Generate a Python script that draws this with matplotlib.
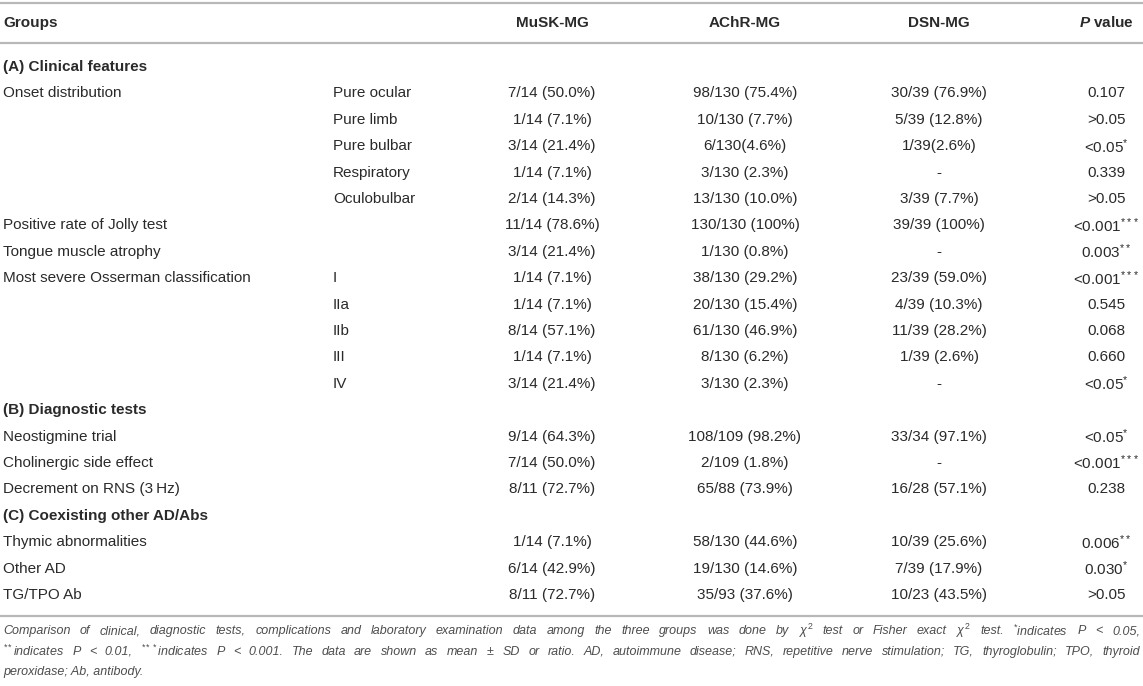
import matplotlib
matplotlib.use("Agg")
import matplotlib.pyplot as plt

plt.rcParams['font.family'] = ['Liberation Sans', 'DejaVu Sans']
plt.rcParams['mathtext.fontset'] = 'custom'
plt.rcParams['mathtext.rm'] = 'Liberation Sans'
plt.rcParams['mathtext.it'] = 'Liberation Sans:italic'
plt.rcParams['mathtext.bf'] = 'Liberation Sans:bold'
plt.rcParams['mathtext.bfit'] = 'Liberation Sans:bold:italic'

# ---------------- data ----------------
headers = ["Groups", "MuSK-MG", "AChR-MG", "DSN-MG", r"$\mathbfit{P}$ value"]

row_kind = ["section", "data", "data", "data", "data", "data", "data", "data",
            "data", "data", "data", "data", "data",
            "section", "data", "data", "data",
            "section", "data", "data", "data"]
row_label = ["(A) Clinical features", "Onset distribution", "", "", "", "",
             "Positive rate of Jolly test", "Tongue muscle atrophy",
             "Most severe Osserman classification", "", "", "", "",
             "(B) Diagnostic tests", "Neostigmine trial", "Cholinergic side effect",
             "Decrement on RNS (3\u2009Hz)",
             "(C) Coexisting other AD/Abs", "Thymic abnormalities", "Other AD", "TG/TPO Ab"]
row_sub = ["", "Pure ocular", "Pure limb", "Pure bulbar", "Respiratory", "Oculobulbar",
           "", "", "I", "IIa", "IIb", "III", "IV",
           "", "", "", "", "", "", "", ""]
musk = ["", "7/14 (50.0%)", "1/14 (7.1%)", "3/14 (21.4%)", "1/14 (7.1%)", "2/14 (14.3%)",
        "11/14 (78.6%)", "3/14 (21.4%)", "1/14 (7.1%)", "1/14 (7.1%)", "8/14 (57.1%)",
        "1/14 (7.1%)", "3/14 (21.4%)",
        "", "9/14 (64.3%)", "7/14 (50.0%)", "8/11 (72.7%)",
        "", "1/14 (7.1%)", "6/14 (42.9%)", "8/11 (72.7%)"]
achr = ["", "98/130 (75.4%)", "10/130 (7.7%)", "6/130(4.6%)", "3/130 (2.3%)", "13/130 (10.0%)",
        "130/130 (100%)", "1/130 (0.8%)", "38/130 (29.2%)", "20/130 (15.4%)", "61/130 (46.9%)",
        "8/130 (6.2%)", "3/130 (2.3%)",
        "", "108/109 (98.2%)", "2/109 (1.8%)", "65/88 (73.9%)",
        "", "58/130 (44.6%)", "19/130 (14.6%)", "35/93 (37.6%)"]
dsn = ["", "30/39 (76.9%)", "5/39 (12.8%)", "1/39(2.6%)", "-", "3/39 (7.7%)",
       "39/39 (100%)", "-", "23/39 (59.0%)", "4/39 (10.3%)", "11/39 (28.2%)",
       "1/39 (2.6%)", "-",
       "", "33/34 (97.1%)", "-", "16/28 (57.1%)",
       "", "10/39 (25.6%)", "7/39 (17.9%)", "10/23 (43.5%)"]
pval = ["", "0.107", ">0.05", "<0.05", "0.339", ">0.05",
        "<0.001", "0.003", "<0.001", "0.545", "0.068", "0.660", "<0.05",
        "", "<0.05", "<0.001", "0.238",
        "", "0.006", "0.030", ">0.05"]
pstars = [0, 0, 0, 1, 0, 0,
          3, 2, 3, 0, 0, 0, 1,
          0, 1, 3, 0,
          0, 2, 1, 0]

caption_lines = [
    r"Comparison of clinical, diagnostic tests, complications and laboratory examination data among the three groups was done by $\chi^2$ test or Fisher exact $\chi^2$ test. $^{*}$indicates P < 0.05,",
    r"$^{**}$indicates P < 0.01, $^{***}$indicates P < 0.001. The data are shown as mean $\pm$ SD or ratio. AD, autoimmune disease; RNS, repetitive nerve stimulation; TG, thyroglobulin; TPO, thyroid",
    r"peroxidase; Ab, antibody.",
]

# ---------------- layout ----------------
W, H = 1143, 686
fig = plt.figure(figsize=(W / 100, H / 100), dpi=100)
ax = fig.add_axes([0, 0, 1, 1])
ax.set_xlim(0, W)
ax.set_ylim(H, 0)
ax.axis('off')
renderer = fig.canvas.get_renderer()

text_col = '#2a2a2a'
rule_col = '#b8b8b8'
cap_col = '#4d4d4d'
fs = 11.0
cap_fs = 9.0

x_lab, x_sub = 3, 333
x_centers = [552, 745, 939, 1106]

y_head = 22.7
y0, dy = 67, 26.4
y_rule_bot = 615.5
y_cap0, dy_cap = 631, 20.6

for y in (2.7, 43.3, y_rule_bot):
    ax.plot([0, W], [y, y], color=rule_col, lw=1.6, solid_capstyle='butt')

ax.text(x_lab, y_head, headers[0], fontsize=fs, fontweight='bold', color=text_col,
        ha='left', va='center')
for x, h in zip(x_centers, headers[1:]):
    ax.text(x, y_head, h, fontsize=fs, fontweight='bold', color=text_col,
            ha='center', va='center')

for i, kind in enumerate(row_kind):
    y = y0 + i * dy
    if kind == "section":
        ax.text(x_lab, y, row_label[i], fontsize=fs, fontweight='bold',
                color=text_col, ha='left', va='center')
        continue
    if row_label[i]:
        ax.text(x_lab, y, row_label[i], fontsize=fs, color=text_col, ha='left', va='center')
    if row_sub[i]:
        ax.text(x_sub, y, row_sub[i], fontsize=fs, color=text_col, ha='left', va='center')
    p = pval[i] + (r"$^{" + "*" * pstars[i] + "}$" if pstars[i] else "")
    for x, v in zip(x_centers, [musk[i], achr[i], dsn[i], p]):
        ax.text(x, y, v, fontsize=fs, color=text_col, ha='center', va='center')

# caption: justified lines (except the last)
x_cap_left, x_cap_right = 3, 1140
for j, line in enumerate(caption_lines):
    y = y_cap0 + j * dy_cap
    if j == len(caption_lines) - 1:
        ax.text(x_cap_left, y, line, fontsize=cap_fs, style='italic', color=cap_col,
                ha='left', va='center')
        continue
    words = line.split(' ')
    objs, widths = [], []
    for w in words:
        t = ax.text(0, y, w, fontsize=cap_fs, style='italic', color=cap_col,
                    ha='left', va='center')
        bb = t.get_window_extent(renderer)
        objs.append(t)
        widths.append(bb.width)
    gap = (x_cap_right - x_cap_left - sum(widths)) / (len(words) - 1)
    x = x_cap_left
    for t, wd in zip(objs, widths):
        t.set_x(x)
        x += wd + gap

fig.savefig("out.png", dpi=100)
